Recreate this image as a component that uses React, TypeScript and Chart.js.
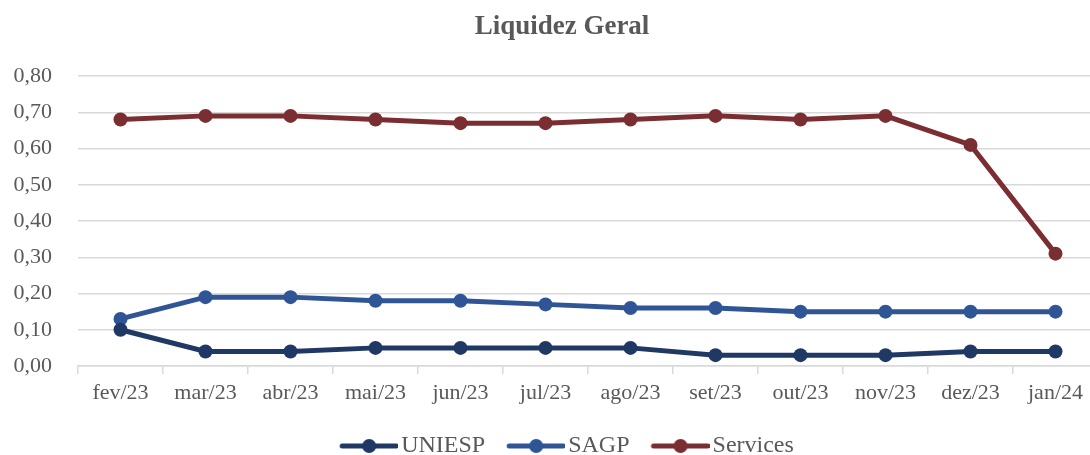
import React, { useEffect, useRef } from "react";
import { Chart, registerables } from "chart.js";

Chart.register(...registerables);

const categories = ["fev/23", "mar/23", "abr/23", "mai/23", "jun/23", "jul/23", "ago/23", "set/23", "out/23", "nov/23", "dez/23", "jan/24"];
const uniesp = [0.10, 0.04, 0.04, 0.05, 0.05, 0.05, 0.05, 0.03, 0.03, 0.03, 0.04, 0.04];
const sagp = [0.13, 0.19, 0.19, 0.18, 0.18, 0.17, 0.16, 0.16, 0.15, 0.15, 0.15, 0.15];
const services = [0.68, 0.69, 0.69, 0.68, 0.67, 0.67, 0.68, 0.69, 0.68, 0.69, 0.61, 0.31];
const seriesNames = ["UNIESP", "SAGP", "Services"];
const seriesColors = ["#203864", "#2F5597", "#7B2E31"];
const titleText = "Liquidez Geral";

const FONT = "'Liberation Serif', 'Times New Roman', serif";
const GREY = "#595959";
const BOTTOM_SHIFT = 13;

function makeMarker(color: string): HTMLCanvasElement {
  const c = document.createElement("canvas");
  c.width = 81;
  c.height = 16;
  const ctx = c.getContext("2d")!;
  ctx.strokeStyle = color;
  ctx.lineWidth = 5;
  ctx.lineCap = "round";
  ctx.beginPath();
  ctx.moveTo(25, 8);
  ctx.lineTo(79, 8);
  ctx.stroke();
  ctx.fillStyle = color;
  ctx.beginPath();
  ctx.arc(52, 8, 7, 0, Math.PI * 2);
  ctx.fill();
  return c;
}

export default function App() {
  const ref = useRef<HTMLCanvasElement>(null);
  useEffect(() => {
    if (!ref.current) return;
    const data = [uniesp, sagp, services];
    const markers = seriesColors.map(makeMarker);
    const chart = new Chart(ref.current, {
      type: "line",
      data: {
        labels: categories,
        datasets: seriesNames.map((name, i) => ({
          label: name,
          data: data[i],
          borderColor: seriesColors[i],
          backgroundColor: seriesColors[i],
          borderWidth: 5,
          pointRadius: 7,
          pointHoverRadius: 7,
          pointBorderWidth: 0,
          tension: 0,
          pointStyle: "circle",
        })),
      },
      options: {
        animation: false,
        responsive: false,
        maintainAspectRatio: false,
        layout: { padding: { top: 76, right: 26, bottom: -BOTTOM_SHIFT, left: 0 } },
        plugins: {
          title: { display: false },
          tooltip: { enabled: false },
          legend: {
            position: "bottom",
            padding: 0,
            labels: {
              usePointStyle: true,
              pointStyleWidth: 63,
              color: GREY,
              font: { family: FONT, size: 24 },
              padding: 8,
              boxHeight: 16,
              generateLabels: (ch: any) =>
                ch.data.datasets.map((ds: any, i: number) => ({
                  text: ds.label,
                  fillStyle: ds.borderColor,
                  strokeStyle: ds.borderColor,
                  lineWidth: 0,
                  pointStyle: markers[i],
                  hidden: false,
                  datasetIndex: i,
                  fontColor: GREY,
                })),
            },
          },
        },
        scales: {
          x: {
            offset: true,
            afterFit: (s: any) => {
              const lh = s.chart.legend && s.chart.legend.height ? s.chart.legend.height : 40;
              s.height = 455 + BOTTOM_SHIFT - 366 - lh;
            },
            grid: {
              offset: true,
              drawOnChartArea: false,
              drawTicks: true,
              tickLength: 8,
              color: "#D9D9D9",
              lineWidth: 1.5,
            },
            border: { display: true, color: "#D9D9D9", width: 1.5 },
            ticks: { color: GREY, font: { family: FONT, size: 22 }, padding: 6, maxRotation: 0 },
          },
          y: {
            min: 0,
            max: 0.8,
            afterFit: (s: any) => { s.width = 78; },
            grid: { color: "#D9D9D9", lineWidth: 1.5, drawTicks: false },
            border: { display: false },
            ticks: {
              stepSize: 0.1,
              padding: 26,
              color: GREY,
              font: { family: FONT, size: 22 },
              callback: (v: any) => Number(v).toFixed(2).replace(".", ","),
            },
          },
        },
      },
      plugins: [
        {
          id: "shiftLegend",
          afterLayout: (ch: any) => {
            if (ch.legend) {
              ch.legend.left += 11;
              ch.legend.right += 11;
            }
          },
        },
        {
          id: "customTitle",
          afterDraw: (ch: any) => {
            const ctx = ch.ctx;
            ctx.save();
            ctx.fillStyle = GREY;
            ctx.font = `bold 27px ${FONT}`;
            ctx.textAlign = "center";
            ctx.textBaseline = "middle";
            ctx.fillText(titleText, 562, 27);
            ctx.restore();
          },
        },
      ],
    });
    return () => chart.destroy();
  }, []);
  return (
    <div style={{ position: "fixed", left: 0, top: 0, width: 1090, height: 455, overflow: "hidden", background: "#fff" }}>
      <canvas ref={ref} width={1124} height={455} style={{ display: "block", width: 1124, height: 455 }} />
    </div>
  );
}
